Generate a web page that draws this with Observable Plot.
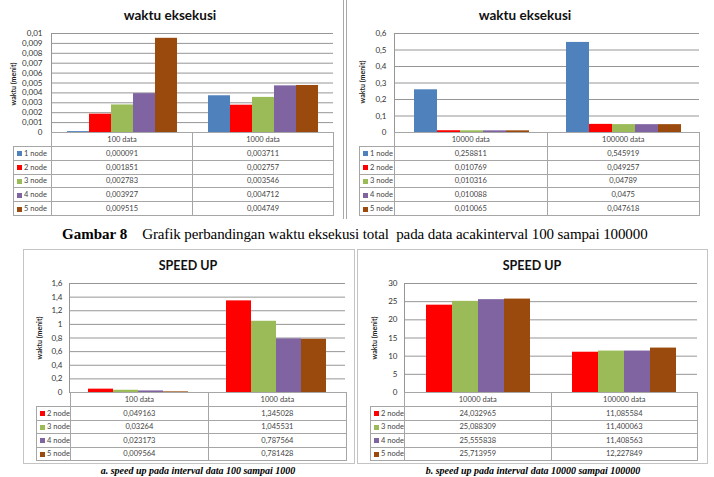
<!DOCTYPE html>
<html><head><meta charset="utf-8">
<script src="https://cdn.jsdelivr.net/npm/d3@7"></script>
<script src="https://cdn.jsdelivr.net/npm/@observablehq/plot@0.6"></script>
<style>
html,body{margin:0;padding:0;background:#fff;}
body{width:714px;height:477px;overflow:hidden;position:relative;font-family:Lato,"Open Sans",sans-serif;}
.abs{position:absolute;}
.title{position:absolute;font-weight:bold;font-size:13.5px;color:#111;white-space:nowrap;transform:translate(-50%,-50%);}
.ytitle{position:absolute;font-weight:bold;font-size:7px;color:#222;white-space:nowrap;transform:translate(-50%,-50%) rotate(-90deg);}
table.dt{position:absolute;border-collapse:collapse;table-layout:fixed;font-size:7.5px;color:#444;}
table.dt td{border:1px solid #a6a6a6;padding:0;text-align:center;white-space:nowrap;overflow:hidden;}
table.dt td.corner{border:none;}
table.dt td.lab{text-align:left;padding-left:3px;}
.sw{display:inline-block;width:5px;height:5px;margin-right:2px;vertical-align:middle;}
.cap{position:absolute;font-family:"Liberation Serif","Times New Roman",serif;white-space:nowrap;color:#000;}
</style></head><body>
<script>
// ---------- data ----------
const nodes5 = ["1 node", "2 node", "3 node", "4 node", "5 node"];
const nodes4 = ["2 node", "3 node", "4 node", "5 node"];
const colors5 = ["#4F81BD", "#FF0000", "#9BBB59", "#8064A2", "#9A4A0C"];
const colors4 = ["#FF0000", "#9BBB59", "#8064A2", "#9A4A0C"];

const catsSmall = ["100 data", "1000 data"];
const catsLarge = ["10000 data", "100000 data"];

const waktu100 = [0.000091, 0.001851, 0.002783, 0.003927, 0.009515];
const waktu1000 = [0.003711, 0.002757, 0.003546, 0.004712, 0.004749];
const waktu10000 = [0.258811, 0.010769, 0.010316, 0.010088, 0.010065];
const waktu100000 = [0.545919, 0.049257, 0.04789, 0.0475, 0.047618];

const speed100 = [0.049163, 0.03264, 0.023173, 0.009564];
const speed1000 = [1.345028, 1.045531, 0.787564, 0.781428];
const speed10000 = [24.032965, 25.088309, 25.555838, 25.713959];
const speed100000 = [11.085584, 11.400063, 11.408563, 12.227849];

const ticksWaktuSmall = [0, 0.001, 0.002, 0.003, 0.004, 0.005, 0.006, 0.007, 0.008, 0.009, 0.01];
const ticksWaktuLarge = [0, 0.1, 0.2, 0.3, 0.4, 0.5, 0.6];
const ticksSpeedSmall = [0, 0.2, 0.4, 0.6, 0.8, 1, 1.2, 1.4, 1.6];
const ticksSpeedLarge = [0, 5, 10, 15, 20, 25, 30];

const titleWaktu = "waktu eksekusi";
const titleSpeed = "SPEED UP";
const yTitle = "waktu (menit)";
const caption8Bold = "Gambar 8";
const caption8Text = "Grafik perbandingan waktu eksekusi total  pada data acakinterval 100 sampai 100000";
const captionA = "a. speed up pada interval data 100 sampai 1000";
const captionB = "b. speed up pada interval data 10000 sampai 100000";

// ---------- helpers ----------
const fmt = d => d === 0 ? "0" : String(+(+d).toFixed(6)).replace(".", ",");
const GRID = "#969696";

function addDiv(cls, text, left, top, extra) {
  const el = document.createElement("div");
  el.className = cls;
  el.textContent = text;
  el.style.left = left + "px";
  el.style.top = top + "px";
  if (extra) Object.assign(el.style, extra);
  document.body.appendChild(el);
  return el;
}

function panel(cfg) {
  const rows = [];
  cfg.cats.forEach((c, i) => cfg.series.forEach((s, j) => rows.push({cat: c, node: s, v: cfg.values[i][j]})));
  const chart = Plot.plot({
    width: cfg.w, height: cfg.h,
    marginLeft: cfg.ml, marginRight: cfg.mr, marginTop: cfg.mt, marginBottom: cfg.mb,
    style: {fontFamily: "Lato, sans-serif", fontSize: "8px", color: "#333", background: "transparent", overflow: "visible"},
    fx: {domain: cfg.cats, padding: 0, axis: null},
    x: {domain: cfg.series, paddingInner: 0, paddingOuter: cfg.po, axis: null},
    y: {domain: [cfg.ticks[0], cfg.ticks[cfg.ticks.length - 1]], axis: null},
    color: {domain: cfg.series, range: cfg.colors},
    marks: [
      Plot.ruleY(cfg.ticks, {stroke: GRID, strokeWidth: 1}),
      Plot.barY(rows, {fx: "cat", x: "node", y: "v", fill: "node"}),
      Plot.axisY(cfg.ticks, {tickSize: 0, tickPadding: cfg.tp, tickFormat: fmt, fontSize: 8, label: null, fill: "#333"})
    ]
  });
  chart.style.position = "absolute";
  chart.style.left = cfg.left + "px";
  chart.style.top = cfg.top + "px";
  d3.select(chart).append("line")
    .attr("x1", cfg.ml + 0.5).attr("x2", cfg.ml + 0.5)
    .attr("y1", cfg.mt).attr("y2", cfg.h - cfg.mb)
    .attr("stroke", GRID);
  document.body.appendChild(chart);

  // data table
  const t = document.createElement("table");
  t.className = "dt";
  t.style.left = cfg.tLeft + "px";
  t.style.top = (cfg.top + cfg.h - cfg.mb) + "px";
  const cg = document.createElement("colgroup");
  cfg.colW.forEach(w => { const c = document.createElement("col"); c.style.width = w + "px"; cg.appendChild(c); });
  t.appendChild(cg);
  let tr = document.createElement("tr");
  tr.style.height = cfg.headH + "px";
  let td = document.createElement("td"); td.className = "corner"; tr.appendChild(td);
  cfg.cats.forEach(c => { const d = document.createElement("td"); d.textContent = c; tr.appendChild(d); });
  t.appendChild(tr);
  cfg.series.forEach((s, j) => {
    const r = document.createElement("tr");
    r.style.height = cfg.rowH + "px";
    const l = document.createElement("td");
    l.className = "lab";
    const sw = document.createElement("span");
    sw.className = "sw"; sw.style.background = cfg.colors[j];
    l.appendChild(sw);
    l.appendChild(document.createTextNode(s));
    r.appendChild(l);
    cfg.cats.forEach((c, i) => { const d = document.createElement("td"); d.textContent = fmt(cfg.values[i][j]); r.appendChild(d); });
    t.appendChild(r);
  });
  document.body.appendChild(t);

  addDiv("title", cfg.title, cfg.titleX, cfg.titleY, {fontSize: cfg.titleSize + "px"});
  addDiv("ytitle", yTitle, cfg.yTitleX, cfg.yTitleY);
}

// ---------- frames ----------
function vline(x, y1, y2, color) {
  const el = document.createElement("div");
  el.className = "abs";
  Object.assign(el.style, {left: x + "px", top: y1 + "px", width: "1px", height: (y2 - y1) + "px", background: color});
  document.body.appendChild(el);
}
function box(x1, y1, x2, y2) {
  const el = document.createElement("div");
  el.className = "abs";
  Object.assign(el.style, {left: x1 + "px", top: y1 + "px", width: (x2 - x1) + "px", height: (y2 - y1) + "px", border: "1.5px solid #c4c4c4", boxSizing: "border-box"});
  document.body.appendChild(el);
}
vline(343, 0, 219, "#a8a8a8");
vline(346, 0, 219, "#a8a8a8");
box(23, 249, 355, 464);
box(357, 249, 708, 464);

// ---------- panels ----------
panel({left: 0, top: 0, w: 345, h: 135, ml: 51, mr: 12, mt: 33, mb: 3, po: 0.7, tp: 9,
  cats: catsSmall, series: nodes5, colors: colors5, values: [waktu100, waktu1000], ticks: ticksWaktuSmall,
  tLeft: 13, colW: [38, 141, 141], headH: 14, rowH: 13.8,
  title: titleWaktu, titleX: 170, titleY: 15, titleSize: 13.5, yTitleX: 13, yTitleY: 84});

panel({left: 357, top: 0, w: 345, h: 135, ml: 37, mr: 3, mt: 33, mb: 3, po: 0.7, tp: 9,
  cats: catsLarge, series: nodes5, colors: colors5, values: [waktu10000, waktu100000], ticks: ticksWaktuLarge,
  tLeft: 359, colW: [35, 152.5, 152.5], headH: 14, rowH: 13.8,
  title: titleWaktu, titleX: 525, titleY: 15, titleSize: 13.5, yTitleX: 362, yTitleY: 82});

panel({left: 23, top: 249, w: 331, h: 146, ml: 46, mr: 9, mt: 34, mb: 3, po: 0.76, tp: 7,
  cats: catsSmall, series: nodes4, colors: colors4, values: [speed100, speed1000], ticks: ticksSpeedSmall,
  tLeft: 36, colW: [33, 138, 138], headH: 14, rowH: 13.5,
  title: titleSpeed, titleX: 188, titleY: 265, titleSize: 12.5, yTitleX: 39, yTitleY: 338});

panel({left: 357, top: 249, w: 350, h: 146, ml: 47, mr: 10, mt: 34, mb: 3, po: 0.76, tp: 8,
  cats: catsLarge, series: nodes4, colors: colors4, values: [speed10000, speed100000], ticks: ticksSpeedLarge,
  tLeft: 370, colW: [34, 146.5, 146.5], headH: 14, rowH: 13.5,
  title: titleSpeed, titleX: 532, titleY: 265, titleSize: 12.5, yTitleX: 374, yTitleY: 338});

// ---------- captions ----------
const c8 = document.createElement("div");
c8.className = "cap";
Object.assign(c8.style, {left: "62px", top: "225px", fontSize: "15px", lineHeight: "18px"});
const b = document.createElement("b"); b.textContent = caption8Bold;
const sp = document.createElement("span"); sp.textContent = caption8Text; sp.style.marginLeft = "15px"; sp.style.whiteSpace = "pre"; sp.style.letterSpacing = "-0.1px";
c8.appendChild(b); c8.appendChild(sp);
document.body.appendChild(c8);

addDiv("cap", captionA, 198, 465, {fontSize: "10px", fontStyle: "italic", fontWeight: "bold", transform: "translateX(-50%)", lineHeight: "11px"});
addDiv("cap", captionB, 533, 465, {fontSize: "10px", fontStyle: "italic", fontWeight: "bold", transform: "translateX(-50%)", lineHeight: "11px"});
</script>
</body></html>
